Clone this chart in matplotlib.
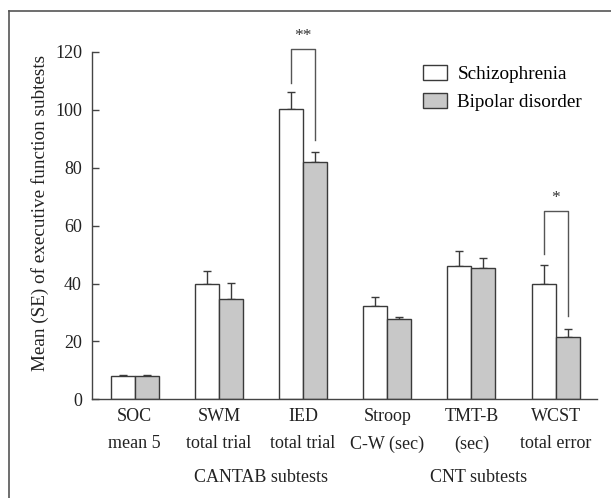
import matplotlib.pyplot as plt
import numpy as np

plt.rcParams['font.family'] = ['Liberation Serif', 'DejaVu Serif']

tests = ["SOC\nmean 5", "SWM\ntotal trial", "IED\ntotal trial",
         "Stroop\nC-W (sec)", "TMT-B\n(sec)", "WCST\ntotal error"]
schizo = [8.0, 40.0, 100.4, 32.2, 46.1, 40.0]
schizo_se = [0.3, 4.3, 5.6, 3.2, 5.2, 6.4]
bipolar = [8.0, 34.7, 81.8, 27.6, 45.2, 21.6]
bipolar_se = [0.3, 5.5, 3.7, 0.7, 3.5, 2.7]

# significance brackets: (group index, top, left leg end, right leg end, label)
brackets = [(2, 120.9, 109.1, 89.5, "**"), (5, 65.0, 50.2, 28.9, "*")]
groups = [("CANTAB subtests", 1.505), ("CNT subtests", 4.09)]

edge = '#3a3a3a'
fs = 13

fig = plt.figure(figsize=(6.11, 4.98), dpi=100)
ax = fig.add_axes([0.150, 0.198, 0.8266, 0.698])

x = np.arange(len(tests))
w = 0.285
ax.bar(x - w / 2, schizo, w, color='white', edgecolor=edge, linewidth=1, label='Schizophrenia', zorder=2)
ax.bar(x + w / 2, bipolar, w, color='#c8c8c8', edgecolor=edge, linewidth=1, label='Bipolar disorder', zorder=2)
ax.errorbar(x - w / 2, schizo, yerr=[np.zeros(len(x)), schizo_se], fmt='none',
            ecolor=edge, elinewidth=1, capsize=3.2, capthick=1, zorder=1)
ax.errorbar(x + w / 2, bipolar, yerr=[np.zeros(len(x)), bipolar_se], fmt='none',
            ecolor=edge, elinewidth=1, capsize=3.2, capthick=1, zorder=1)

for i, top, l_end, r_end, lab in brackets:
    xl, xr = i - w / 2, i + w / 2
    ax.plot([xl, xl, xr, xr], [l_end, top, top, r_end], color='#555555', lw=1, clip_on=False)
    ax.text(i, top + 4.6, lab, ha='center', va='center', fontsize=12.5, color='#333333')

ax.set_xlim(-0.51, 5.487)
ax.set_ylim(0, 120)
ax.set_yticks(range(0, 121, 20))
ax.set_xticks(x)
ax.set_xticklabels(tests, linespacing=1.8)
ax.tick_params(axis='x', length=0, pad=6, labelsize=fs, colors='#222222')
ax.tick_params(axis='y', direction='in', length=5, width=1, pad=7, labelsize=fs,
               colors='#444444', labelcolor='#222222')
for s in ['top', 'right']:
    ax.spines[s].set_visible(False)
for s in ['left', 'bottom']:
    ax.spines[s].set_color('#444444')
    ax.spines[s].set_linewidth(1)

ax.set_ylabel('Mean (SE) of executive function subtests', fontsize=13.8, color='#222222')
ax.yaxis.set_label_coords(-0.084, 0.535)

for name, gx in groups:
    ax.text(gx, -0.226, name, transform=ax.get_xaxis_transform(), ha='center', va='center',
            fontsize=fs, color='#222222')

ax.legend(loc='upper left', bbox_to_anchor=(0.656, 0.962), frameon=False, fontsize=13.8,
          borderpad=0, borderaxespad=0, handlelength=1.25, handleheight=0.82,
          handletextpad=0.55, labelspacing=0.5)

# outer frame (top and left edges of the figure box)
fig.add_artist(plt.Line2D([0.0147, 1.0], [0.978, 0.978], color='#555555', lw=1.2))
fig.add_artist(plt.Line2D([0.0147, 0.0147], [0.0, 0.978], color='#555555', lw=1.2))

fig.savefig('out.png', dpi=100)
